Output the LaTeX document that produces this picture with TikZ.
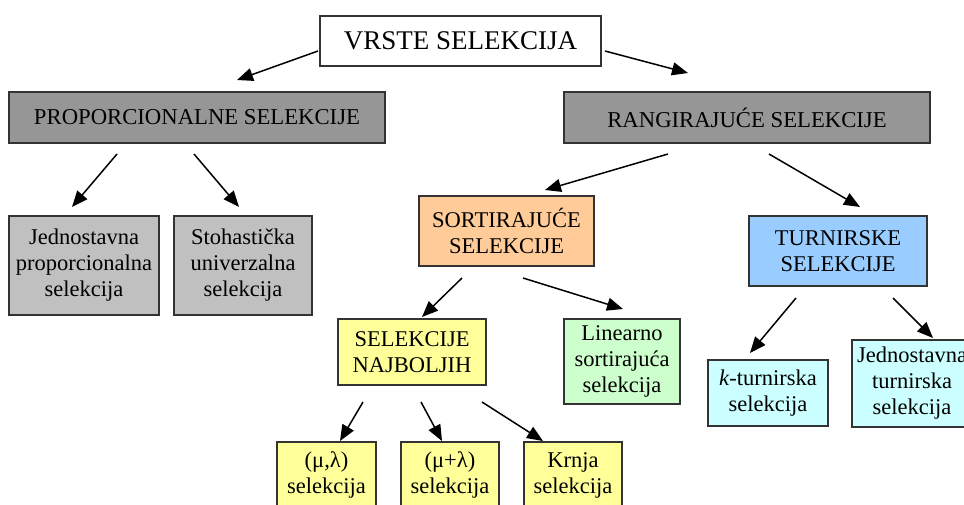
\documentclass[tikz,border=0pt]{standalone}
\usepackage{fontspec}
\setmainfont{Liberation Serif}
\usetikzlibrary{arrows.meta}
\definecolor{hdrgray}{HTML}{969696}
\definecolor{lgray}{HTML}{C0C0C0}
\definecolor{orng}{HTML}{FFCC99}
\definecolor{blu}{HTML}{99CCFF}
\definecolor{ylw}{HTML}{FFFF99}
\definecolor{grn}{HTML}{CCFFCC}
\definecolor{cyn}{HTML}{CCFFFF}
\definecolor{edge}{HTML}{333333}
\tikzset{
  box/.style={draw=edge, line width=1.6pt, inner sep=0pt, align=center,
    font=\fontsize{22.5}{26}\selectfont, text=black},
  conn/.style={line width=1.5pt, -{Triangle[length=16pt,width=13pt]}},
}
\newcommand{\bx}[8]{% name, x1, y1, x2, y2, fill, fontsize, text
  \node[box, fill=#6, minimum width={#4-#2}, minimum height={#5-#3}, font=#7]
    (#1) at ({(#2+#4)/2},{(#3+#5)/2}) {#8};}
\begin{document}
\begin{tikzpicture}[x=1pt,y=-1pt]
\useasboundingbox (0,0) rectangle (964,504);
\clip (0,0) rectangle (964,504);
\bx{top}{320}{16}{601}{66}{white}{\fontsize{27}{30}\selectfont}{VRSTE SELEKCIJA}
\bx{prop}{9}{92}{385}{143}{hdrgray}{\fontsize{22.7}{26}\selectfont}{PROPORCIONALNE SELEKCIJE}
\bx{rang}{564}{92}{930}{143}{hdrgray}{\fontsize{22.7}{26}\selectfont}{RANGIRAJUĆE SELEKCIJE}
\bx{jed}{9}{216}{159}{315}{lgray}{\fontsize{22.5}{26}\selectfont}{Jednostavna\\proporcionalna\\selekcija}
\bx{stoh}{174}{216}{312}{315}{lgray}{\fontsize{22.5}{26}\selectfont}{Stohastička\\univerzalna\\selekcija}
\bx{sort}{419}{196}{594}{266}{orng}{\fontsize{22.5}{26}\selectfont}{SORTIRAJUĆE\\SELEKCIJE}
\bx{turn}{749}{216}{927}{286}{blu}{\fontsize{22.5}{26}\selectfont}{TURNIRSKE\\SELEKCIJE}
\bx{naj}{338}{319}{486}{385}{ylw}{\fontsize{22.5}{26}\selectfont}{SELEKCIJE\\NAJBOLJIH}
\bx{lin}{564}{319}{680}{404}{grn}{\fontsize{22.5}{26}\selectfont}{Linearno\\sortirajuća\\selekcija}
\bx{mul}{277}{442}{376}{508}{ylw}{\fontsize{22.5}{26}\selectfont}{(μ,λ)\\selekcija}
\bx{mupl}{401}{442}{499}{508}{ylw}{\fontsize{22.5}{26}\selectfont}{(μ+λ)\\selekcija}
\bx{krnja}{524}{442}{622}{508}{ylw}{\fontsize{22.5}{26}\selectfont}{Krnja\\selekcija}
\bx{kt}{708}{360}{828}{426}{cyn}{\fontsize{22.5}{26}\selectfont}{\textit{k}-turnirska\\selekcija}
\bx{jt}{852}{340}{972}{427}{cyn}{\fontsize{22.5}{26}\selectfont}{Jednostavna\\turnirska\\selekcija}
% connector end points
\coordinate (a1s) at (318,51);  \coordinate (a1e) at (237,80);
\coordinate (a2s) at (605,51);  \coordinate (a2e) at (688,73);
\coordinate (a3s) at (117,154); \coordinate (a3e) at (72,207);
\coordinate (a4s) at (194,154); \coordinate (a4e) at (239,207);
\coordinate (a5s) at (668,154); \coordinate (a5e) at (545,190);
\coordinate (a6s) at (769,154); \coordinate (a6e) at (860,207);
\coordinate (a7s) at (462,278); \coordinate (a7e) at (422,317);
\coordinate (a8s) at (523,278); \coordinate (a8e) at (623,309);
\coordinate (a9s) at (796,298); \coordinate (a9e) at (750,353);
\coordinate (a10s) at (893,298); \coordinate (a10e) at (933,338);
\coordinate (a11s) at (363,402); \coordinate (a11e) at (340,441);
\coordinate (a12s) at (421,402); \coordinate (a12e) at (442,441);
\coordinate (a13s) at (482,402); \coordinate (a13e) at (543,441);
\foreach \i in {1,...,13} {\draw[conn] (a\i s) -- (a\i e);}
\end{tikzpicture}
\end{document}
